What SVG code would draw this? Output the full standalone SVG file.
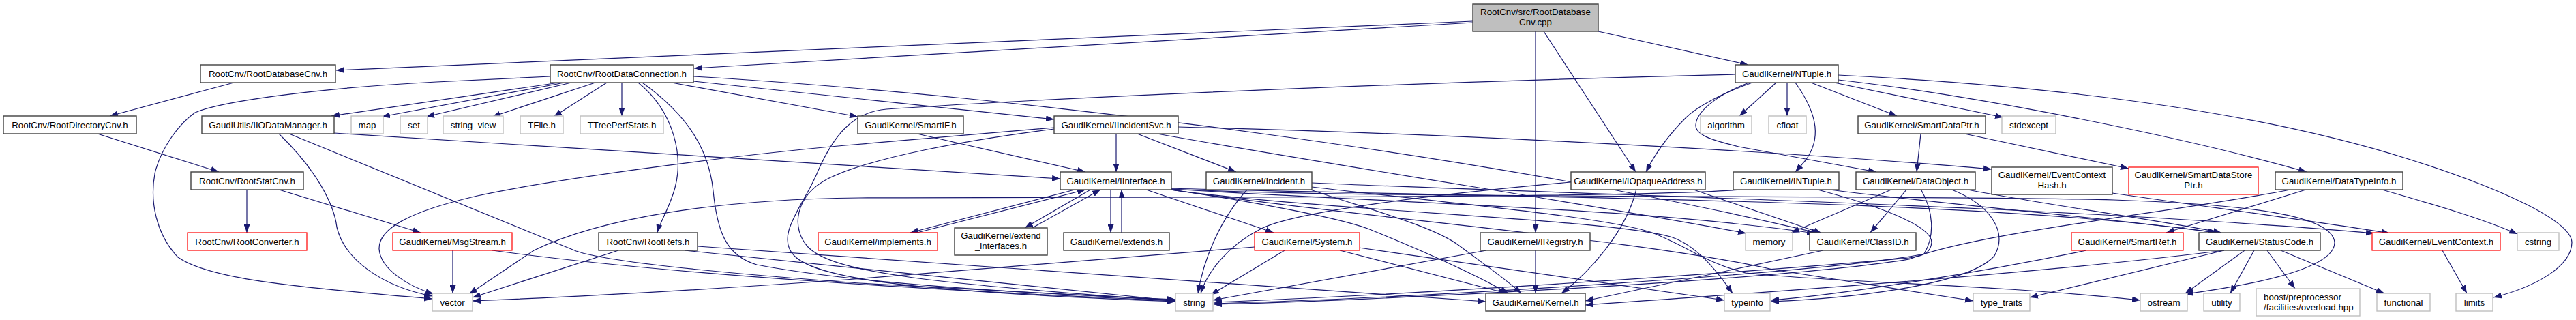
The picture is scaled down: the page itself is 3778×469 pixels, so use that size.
<svg xmlns="http://www.w3.org/2000/svg" width="3778" height="469" viewBox="0 0 3778 469">
<defs>
<style>
.e{fill:none;stroke:#191970;stroke-width:1.2;marker-end:url(#ah)}
.n rect{fill:#fff;stroke:#404040;stroke-width:1.4}
.r rect{fill:#fff;stroke:#ff0000;stroke-width:1.2}
.g rect{fill:#fff;stroke:#bfbfbf;stroke-width:1.4}
.t rect{fill:#bfbfbf;stroke:#404040;stroke-width:1.4}
text{font-family:"Liberation Sans",Arial,Helvetica,sans-serif;font-size:13.3px;fill:#000;text-anchor:middle}
text.l{text-anchor:start}
</style>
<marker id="ah" viewBox="0 0 12 9" refX="12" refY="4.5" markerWidth="12" markerHeight="9" orient="auto" markerUnits="userSpaceOnUse"><path d="M0,0 L12,4.5 L0,9 z" fill="#191970"/></marker>
</defs>
<rect x="0" y="0" width="3778" height="469" fill="#fff"/>
<g id="edges">
<path class="e" d="M2160,31 L493,103"/>
<path class="e" d="M2160,33 L1018,100"/>
<path class="e" d="M2252,46 L2252,341"/>
<path class="e" d="M2264,46 L2399,252"/>
<path class="e" d="M2344,46 L2564,95"/>
<path class="e" d="M343,121 L161,170"/>
<path class="e" d="M143,196 L321,252"/>
<path class="e" d="M362,277 L362,341"/>
<path class="e" d="M406,277 L617,341"/>
<path class="e" d="M664,367 L664,430"/>
<path class="e" d="M722,367 C1000,405 1400,427 1724,441"/>
<path class="e" d="M409,196 C465,250 490,300 494,333 C505,380 560,420 634,434"/>
<path class="e" d="M424,196 L845,368 C880,380 1000,396 1260,415 L1724,440"/>
<path class="e" d="M490,195 L1555,262"/>
<path class="e" d="M820,121 L486,170"/>
<path class="e" d="M828,121 L560,171"/>
<path class="e" d="M838,121 L625,171"/>
<path class="e" d="M873,121 L722,171"/>
<path class="e" d="M890,121 L812,171"/>
<path class="e" d="M912,121 L912,170"/>
<path class="e" d="M936,121 C990,165 1002,230 990,275 C982,305 968,325 964,341"/>
<path class="e" d="M942,121 C1010,170 1040,220 1046,280 C1052,340 1065,375 1110,388 C1250,415 1500,430 1724,439"/>
<path class="e" d="M985,121 L1258,171"/>
<path class="e" d="M1017,119 L1546,175"/>
<path class="e" d="M1017,112 C1500,140 2200,230 2668,342"/>
<path class="e" d="M807,112 L640,120 C450,130 320,150 286,165 C262,182 238,215 228,250 C218,295 230,345 261,377 C305,408 420,420 634,438"/>
<path class="e" d="M1345,196 L1592,252"/>
<path class="e" d="M1637,196 L1637,252"/>
<path class="e" d="M1668,196 L1813,252"/>
<path class="e" d="M1728,186 C2100,195 2600,220 2921,248"/>
<path class="e" d="M1546,189 C1420,205 1280,230 1214,262 C1165,288 1160,335 1185,362 C1220,398 1350,415 1724,441"/>
<path class="e" d="M1546,187 L1240,213 C1050,230 800,265 700,287 C600,310 555,335 556,365 C558,395 600,420 636,431"/>
<path class="e" d="M1697,196 C2000,250 2400,310 2561,342"/>
<path class="e" d="M2545,109 C2100,120 1600,140 1300,160 C1250,164 1222,200 1200,250 C1180,300 1135,345 1165,375 C1200,410 1350,428 1724,442"/>
<path class="e" d="M2605,121 L2551,170"/>
<path class="e" d="M2621,121 L2621,170"/>
<path class="e" d="M2633,121 C2668,170 2670,205 2648,235 L2633,252"/>
<path class="e" d="M2656,121 L2782,170"/>
<path class="e" d="M2690,121 L2938,172"/>
<path class="e" d="M2696,117 C2900,140 3200,200 3383,252"/>
<path class="e" d="M2696,110 C3000,125 3300,160 3532,233 C3650,270 3770,320 3772,355 C3772,390 3720,420 3657,436"/>
<path class="e" d="M2570,121 C2530,135 2490,155 2472,173 C2445,200 2425,230 2414,252"/>
<path class="e" d="M2565,121 C2515,140 2488,165 2487,183 C2486,198 2510,205 2550,215 L2752,252"/>
<path class="e" d="M2662,277 C2750,300 2833,330 2833,355 C2832,370 2822,375 2800,378 C2500,405 2000,435 1780,443"/>
<path class="e" d="M2567,277 C2400,292 1600,288 1260,290 C1050,292 880,320 783,367 L688,431"/>
<path class="e" d="M2674,277 C2900,305 3100,320 3252,341"/>
<path class="e" d="M2776,277 L2627,341"/>
<path class="e" d="M2797,277 L2743,341"/>
<path class="e" d="M2817,277 C2836,310 2838,345 2822,372 C2700,398 2100,436 1780,445"/>
<path class="e" d="M2880,277 C3000,300 3150,320 3258,341"/>
<path class="e" d="M2860,277 C2920,300 2945,340 2925,375 C2885,420 2700,438 2597,442"/>
<path class="e" d="M2817,196 L2811,252"/>
<path class="e" d="M2881,196 L3122,247"/>
<path class="e" d="M3098,283 C3250,305 3400,325 3505,342"/>
<path class="e" d="M1830,277 C1790,320 1765,380 1757,430"/>
<path class="e" d="M1919,277 C2000,305 2100,330 2140,360 C2180,390 2210,410 2231,430"/>
<path class="e" d="M1924,268 C2300,285 3000,300 3482,342"/>
<path class="e" d="M1924,274 C2150,300 2350,318 2420,340 C2470,358 2500,385 2560,400 C2700,415 2900,415 3139,440"/>
<path class="e" d="M2304,267 C2100,285 1900,310 1850,335 C1800,360 1770,400 1761,430"/>
<path class="e" d="M2400,277 C2385,340 2330,400 2290,430"/>
<path class="e" d="M2481,277 L2672,342"/>
<path class="e" d="M1884,367 L1776,432"/>
<path class="e" d="M1965,367 L2210,430"/>
<path class="e" d="M1993,363 L2529,440"/>
<path class="e" d="M1840,362 L1240,410 C1000,427 800,437 693,441"/>
<path class="e" d="M2252,367 L2252,430"/>
<path class="e" d="M2180,367 L1779,440"/>
<path class="e" d="M2674,367 L2325,441"/>
<path class="e" d="M3262,367 C3000,400 2600,428 2325,447"/>
<path class="e" d="M3262,367 L2977,436"/>
<path class="e" d="M3292,367 L3205,430"/>
<path class="e" d="M3306,367 L3271,430"/>
<path class="e" d="M3325,367 L3366,423"/>
<path class="e" d="M3345,367 L3497,430"/>
<path class="e" d="M3060,367 C2900,400 2700,432 2597,440"/>
<path class="e" d="M3385,277 L3177,341"/>
<path class="e" d="M3490,277 C3570,300 3640,320 3692,343"/>
<path class="e" d="M3364,277 C3200,310 2900,340 2800,380 C2600,412 2000,441 1780,446"/>
<path class="e" d="M3582,367 L3618,430"/>
<path class="e" d="M1580,277 L1335,341"/>
<path class="e" d="M1345,341 L1592,278"/>
<path class="e" d="M1601,277 L1503,334"/>
<path class="e" d="M1514,334 L1614,278"/>
<path class="e" d="M1629,277 L1629,341"/>
<path class="e" d="M1645,341 L1645,278"/>
<path class="e" d="M1678,277 L1868,341"/>
<path class="e" d="M1712,277 C1800,290 1950,315 2006,335 C2080,365 2160,400 2212,430"/>
<path class="e" d="M1716,277 C2100,300 2400,305 2662,342"/>
<path class="e" d="M1716,276 C2200,290 2900,290 3250,341"/>
<path class="e" d="M1716,278 C1950,310 2350,320 2450,347 C2490,360 2520,400 2541,430"/>
<path class="e" d="M1716,278 C2000,320 2400,350 2600,395 L2894,441"/>
<path class="e" d="M1718,277 C2000,292 2800,285 3100,293 C3300,300 3420,315 3424,355 C3425,395 3300,418 3205,431"/>
<path class="e" d="M907,367 L693,436"/>
<path class="e" d="M1004,367 L1724,441"/>
<path class="e" d="M1023,361 L2179,442"/>
</g>
<g id="n0" class="t"><rect x="2160" y="6" width="184" height="40"/><text x="2252" y="22">RootCnv/src/RootDatabase</text><text x="2252" y="37">Cnv.cpp</text></g>
<g id="n1" class="n"><rect x="294" y="95" width="198" height="26"/><text x="393" y="113">RootCnv/RootDatabaseCnv.h</text></g>
<g id="n2" class="n"><rect x="807" y="95" width="210" height="26"/><text x="912" y="113">RootCnv/RootDataConnection.h</text></g>
<g id="n3" class="n"><rect x="2545" y="95" width="151" height="26"/><text x="2620.5" y="113">GaudiKernel/NTuple.h</text></g>
<g id="n4" class="n"><rect x="5" y="170" width="195" height="26"/><text x="102.5" y="188">RootCnv/RootDirectoryCnv.h</text></g>
<g id="n5" class="n"><rect x="296" y="170" width="194" height="26"/><text x="393" y="188">GaudiUtils/IIODataManager.h</text></g>
<g id="n6" class="g"><rect x="515" y="170" width="47" height="26"/><text x="538.5" y="188">map</text></g>
<g id="n7" class="g"><rect x="587" y="170" width="40" height="26"/><text x="607" y="188">set</text></g>
<g id="n8" class="g"><rect x="650" y="170" width="88" height="26"/><text x="694" y="188">string_view</text></g>
<g id="n9" class="g"><rect x="763" y="170" width="63" height="26"/><text x="794.5" y="188">TFile.h</text></g>
<g id="n10" class="g"><rect x="851" y="170" width="122" height="26"/><text x="912" y="188">TTreePerfStats.h</text></g>
<g id="n11" class="n"><rect x="1258" y="170" width="155" height="26"/><text x="1335.5" y="188">GaudiKernel/SmartIF.h</text></g>
<g id="n12" class="n"><rect x="1546" y="170" width="182" height="26"/><text x="1637" y="188">GaudiKernel/IIncidentSvc.h</text></g>
<g id="n13" class="g"><rect x="2494" y="170" width="75" height="26"/><text x="2531.5" y="188">algorithm</text></g>
<g id="n14" class="g"><rect x="2594" y="170" width="55" height="26"/><text x="2621.5" y="188">cfloat</text></g>
<g id="n15" class="n"><rect x="2725" y="170" width="187" height="26"/><text x="2818.5" y="188">GaudiKernel/SmartDataPtr.h</text></g>
<g id="n16" class="g"><rect x="2936" y="170" width="79" height="26"/><text x="2975.5" y="188">stdexcept</text></g>
<g id="n17" class="n"><rect x="280" y="252" width="165" height="26"/><text x="362.5" y="270">RootCnv/RootStatCnv.h</text></g>
<g id="n18" class="n"><rect x="1555" y="252" width="163" height="26"/><text x="1636.5" y="270">GaudiKernel/IInterface.h</text></g>
<g id="n19" class="n"><rect x="1769" y="252" width="155" height="26"/><text x="1846.5" y="270">GaudiKernel/Incident.h</text></g>
<g id="n20" class="n"><rect x="2304" y="252" width="197" height="26"/><text x="2402.5" y="270">GaudiKernel/IOpaqueAddress.h</text></g>
<g id="n21" class="n"><rect x="2542" y="252" width="155" height="26"/><text x="2619.5" y="270">GaudiKernel/INTuple.h</text></g>
<g id="n22" class="n"><rect x="2722" y="252" width="175" height="26"/><text x="2809.5" y="270">GaudiKernel/DataObject.h</text></g>
<g id="n23" class="n"><rect x="2921" y="245" width="177" height="40"/><text x="3009.5" y="261">GaudiKernel/EventContext</text><text x="3009.5" y="276">Hash.h</text></g>
<g id="n24" class="r"><rect x="3122" y="245" width="190" height="40"/><text x="3217" y="261">GaudiKernel/SmartDataStore</text><text x="3217" y="276">Ptr.h</text></g>
<g id="n25" class="n"><rect x="3337" y="252" width="187" height="26"/><text x="3430.5" y="270">GaudiKernel/DataTypeInfo.h</text></g>
<g id="n26" class="r"><rect x="275" y="341" width="175" height="26"/><text x="362.5" y="359">RootCnv/RootConverter.h</text></g>
<g id="n27" class="r"><rect x="576" y="341" width="175" height="26"/><text x="663.5" y="359">GaudiKernel/MsgStream.h</text></g>
<g id="n28" class="n"><rect x="878" y="341" width="145" height="26"/><text x="950.5" y="359">RootCnv/RootRefs.h</text></g>
<g id="n29" class="r"><rect x="1200" y="341" width="175" height="26"/><text x="1287.5" y="359">GaudiKernel/implements.h</text></g>
<g id="n30" class="n"><rect x="1400" y="334" width="136" height="40"/><text x="1468" y="350">GaudiKernel/extend</text><text x="1468" y="365">_interfaces.h</text></g>
<g id="n31" class="n"><rect x="1560" y="341" width="155" height="26"/><text x="1637.5" y="359">GaudiKernel/extends.h</text></g>
<g id="n32" class="r"><rect x="1840" y="341" width="154" height="26"/><text x="1917" y="359">GaudiKernel/System.h</text></g>
<g id="n33" class="n"><rect x="2171" y="341" width="161" height="26"/><text x="2251.5" y="359">GaudiKernel/IRegistry.h</text></g>
<g id="n34" class="g"><rect x="2560" y="341" width="69" height="26"/><text x="2594.5" y="359">memory</text></g>
<g id="n35" class="n"><rect x="2654" y="341" width="156" height="26"/><text x="2732" y="359">GaudiKernel/ClassID.h</text></g>
<g id="n36" class="r"><rect x="3038" y="341" width="164" height="26"/><text x="3120" y="359">GaudiKernel/SmartRef.h</text></g>
<g id="n37" class="n"><rect x="3225" y="341" width="178" height="26"/><text x="3314" y="359">GaudiKernel/StatusCode.h</text></g>
<g id="n38" class="r"><rect x="3479" y="341" width="188" height="26"/><text x="3573" y="359">GaudiKernel/EventContext.h</text></g>
<g id="n39" class="g"><rect x="3692" y="341" width="61" height="26"/><text x="3722.5" y="359">cstring</text></g>
<g id="n40" class="g"><rect x="634" y="430" width="59" height="26"/><text x="663.5" y="448">vector</text></g>
<g id="n41" class="g"><rect x="1724" y="430" width="55" height="26"/><text x="1751.5" y="448">string</text></g>
<g id="n42" class="n"><rect x="2179" y="430" width="146" height="26"/><text x="2252" y="448">GaudiKernel/Kernel.h</text></g>
<g id="n43" class="g"><rect x="2529" y="430" width="67" height="26"/><text x="2562.5" y="448">typeinfo</text></g>
<g id="n44" class="g"><rect x="2894" y="430" width="83" height="26"/><text x="2935.5" y="448">type_traits</text></g>
<g id="n45" class="g"><rect x="3139" y="430" width="69" height="26"/><text x="3173.5" y="448">ostream</text></g>
<g id="n46" class="g"><rect x="3232" y="430" width="53" height="26"/><text x="3258.5" y="448">utility</text></g>
<g id="n47" class="g"><rect x="3309" y="423" width="152" height="40"/><text class="l" x="3320" y="440">boost/preprocessor</text><text class="l" x="3320" y="455">/facilities/overload.hpp</text></g>
<g id="n48" class="g"><rect x="3486" y="430" width="78" height="26"/><text x="3525" y="448">functional</text></g>
<g id="n49" class="g"><rect x="3602" y="430" width="54" height="26"/><text x="3629" y="448">limits</text></g>
</svg>
